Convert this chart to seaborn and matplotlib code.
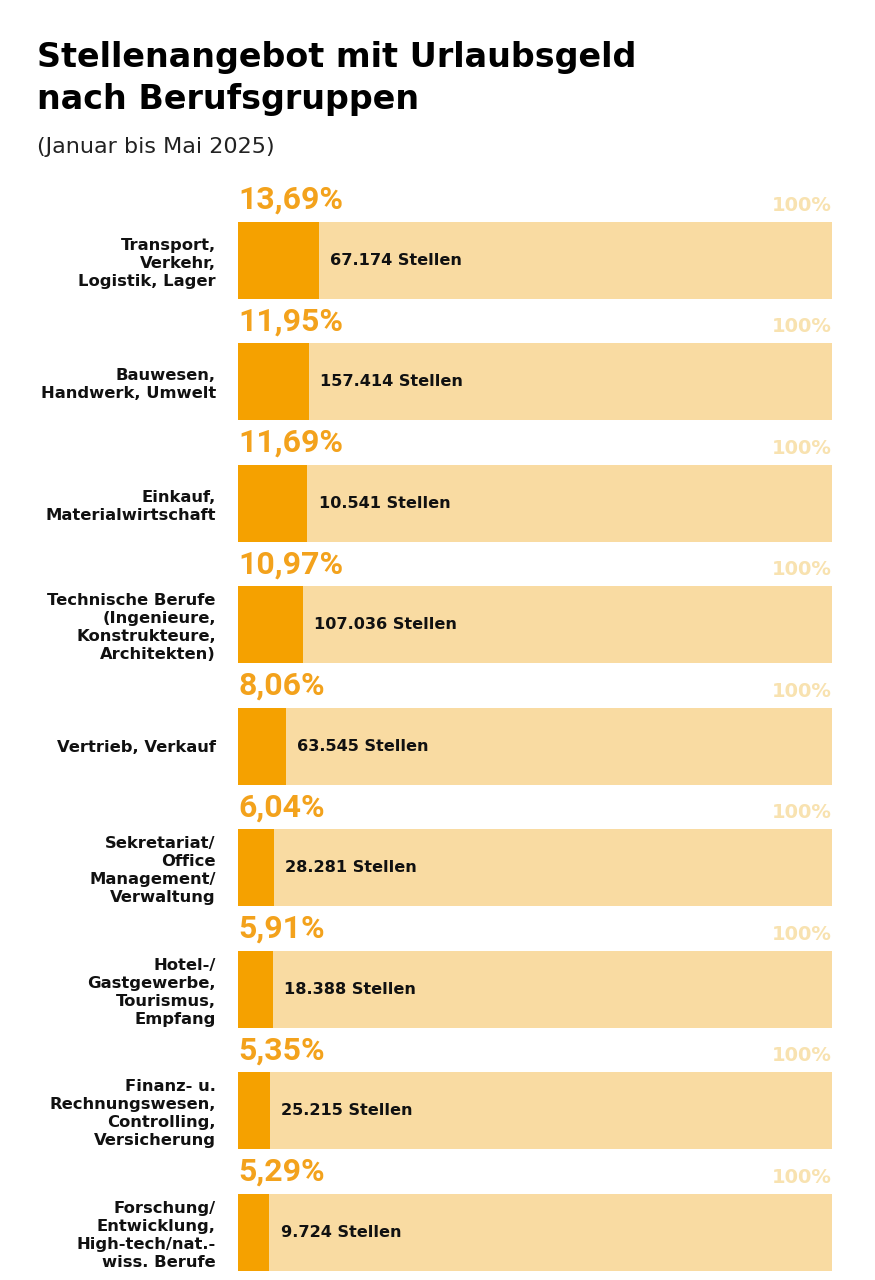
import matplotlib
matplotlib.use("Agg")
import matplotlib.pyplot as plt
import seaborn as sns
import pandas as pd

categories = [
    "Transport,\nVerkehr,\nLogistik, Lager",
    "Bauwesen,\nHandwerk, Umwelt",
    "Einkauf,\nMaterialwirtschaft",
    "Technische Berufe\n(Ingenieure,\nKonstrukteure,\nArchitekten)",
    "Vertrieb, Verkauf",
    "Sekretariat/\nOffice\nManagement/\nVerwaltung",
    "Hotel-/\nGastgewerbe,\nTourismus,\nEmpfang",
    "Finanz- u.\nRechnungswesen,\nControlling,\nVersicherung",
    "Forschung/\nEntwicklung,\nHigh-tech/nat.-\nwiss. Berufe",
]
shares = [13.69, 11.95, 11.69, 10.97, 8.06, 6.04, 5.91, 5.35, 5.29]
share_labels = ["13,69%", "11,95%", "11,69%", "10,97%", "8,06%", "6,04%", "5,91%", "5,35%", "5,29%"]
stellen_labels = ["67.174 Stellen", "157.414 Stellen", "10.541 Stellen", "107.036 Stellen",
                  "63.545 Stellen", "28.281 Stellen", "18.388 Stellen", "25.215 Stellen", "9.724 Stellen"]
total = [100] * len(categories)

df = pd.DataFrame({"cat": categories, "share": shares, "total": total})

sns.set_theme(style="white")
plt.rcParams["font.family"] = ["DejaVu Sans"]

ORANGE = "#f5a100"
LIGHT = "#f9dba2"
LABEL_ORANGE = "#f3a21c"
FAINT = "#f8e2b0"

fig = plt.figure(figsize=(8.75, 12.8), dpi=100)
ax = fig.add_axes([238 / 875, 5 / 1280, 594 / 875, 1087.4 / 1280])

bh = 77 / 121.5
sns.barplot(data=df, y="cat", x="total", orient="h", color=LIGHT, width=bh,
            saturation=1, linewidth=0, ax=ax, order=categories)
sns.barplot(data=df, y="cat", x="share", orient="h", color=ORANGE, width=bh,
            saturation=1, linewidth=0, ax=ax, order=categories)

ax.set_xlim(0, 100)
ax.set_ylim(8.35, -0.6)
ax.set_xlabel("")
ax.set_ylabel("")
ax.set_xticks([])
for s in ax.spines.values():
    s.set_visible(False)
ax.tick_params(axis="y", length=0, pad=16)
for t in ax.get_yticklabels():
    t.set_fontsize(11.8)
    t.set_fontweight("bold")
    t.set_color("#111111")
    t.set_linespacing(1.25)

for i in range(len(categories)):
    top = i - bh / 2
    ax.text(0, top - 0.06, share_labels[i], ha="left", va="bottom",
            fontsize=23, fontweight="bold", color=LABEL_ORANGE, family="Roboto")
    ax.text(100, top - 0.06, "100%", ha="right", va="bottom",
            fontsize=14, fontweight="bold", color=FAINT)
    ax.annotate(stellen_labels[i], xy=(shares[i], i), xytext=(8, 0),
                textcoords="offset points", ha="left", va="center",
                fontsize=11.6, fontweight="bold", color="#111111")

fig.text(37 / 875, 1 - 41 / 1280, "Stellenangebot mit Urlaubsgeld\nnach Berufsgruppen",
         ha="left", va="top", fontsize=24, fontweight="bold", color="#000000",
         linespacing=1.35)
fig.text(37 / 875, 1 - 147 / 1280, "(Januar bis Mai 2025)", ha="left", va="center",
         fontsize=16, color="#222222")

fig.savefig("out.png", dpi=100, facecolor="white")
